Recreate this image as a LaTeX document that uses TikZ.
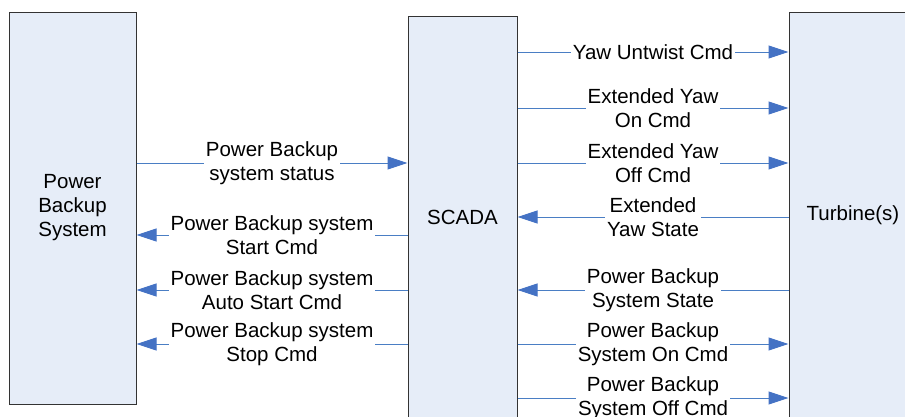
\documentclass[tikz,border=0pt]{standalone}
\usepackage{fontspec}
\setmainfont{Liberation Sans}
\usetikzlibrary{arrows.meta}
\definecolor{boxfill}{HTML}{E6EDF8}
\definecolor{sigline}{HTML}{4A7EC4}
\definecolor{sighead}{HTML}{4472C4}

\begin{document}
\begin{tikzpicture}[x=1pt,y=-1pt,
  unit/.style={draw=black!80, fill=boxfill, line width=1pt, inner sep=0pt, align=center, font=\fontsize{20.5}{24}\selectfont},
  sig/.style={draw=sigline, line width=1pt, -{Triangle[length=20pt,width=13pt,color=sighead]}},
  lbl/.style={fill=white, inner sep=2pt, align=center, font=\fontsize{20.5}{24}\selectfont}]
\useasboundingbox (0,0) rectangle (905,416);

\node[unit, minimum width=127pt, minimum height=392pt] (pbs) at (72.5,208) {Power\\Backup\\System};
\node[unit, minimum width=109pt, minimum height=402pt] (scada) at (462.5,217) {SCADA};
\node[unit, minimum width=128pt, minimum height=406pt] (turb) at (853,215) {Turbine(s)};

\path[sig] (pbs.east |- 0,163) -- node[lbl] {Power Backup\\system status} (scada.west |- 0,163);
\path[sig] (scada.west |- 0,235) -- node[lbl] {Power Backup system\\Start Cmd} (pbs.east |- 0,235);
\path[sig] (scada.west |- 0,290) -- node[lbl] {Power Backup system\\Auto Start Cmd} (pbs.east |- 0,290);
\path[sig] (scada.west |- 0,344) -- node[lbl] {Power Backup system\\Stop Cmd} (pbs.east |- 0,344);

\path[sig] (scada.east |- 0,52) -- node[lbl] {Yaw Untwist Cmd} (turb.west |- 0,52);
\path[sig] (scada.east |- 0,108) -- node[lbl] {Extended Yaw\\On Cmd} (turb.west |- 0,108);
\path[sig] (scada.east |- 0,163) -- node[lbl] {Extended Yaw\\Off Cmd} (turb.west |- 0,163);
\path[sig] (turb.west |- 0,217) -- node[lbl] {Extended\\Yaw State} (scada.east |- 0,217);
\path[sig] (turb.west |- 0,290) -- node[lbl] {Power Backup\\System State} (scada.east |- 0,290);
\path[sig] (scada.east |- 0,344) -- node[lbl] {Power Backup\\System On Cmd} (turb.west |- 0,344);
\path[sig] (scada.east |- 0,398) -- node[lbl] {Power Backup\\System Off Cmd} (turb.west |- 0,398);
\end{tikzpicture}
\end{document}
